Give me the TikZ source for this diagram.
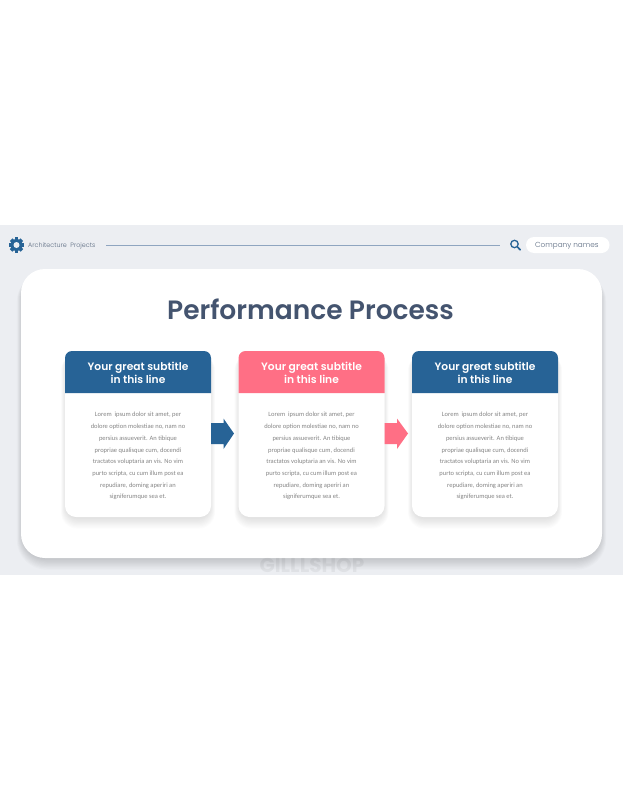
\documentclass[tikz,border=0pt]{standalone}
\usepackage{fontspec}
\setmainfont{Poppins}
\newfontfamily\semifont[UprightFont={* SemiBold}]{Poppins}
\newfontfamily\lightfont[UprightFont={* Light}]{Poppins}
\newfontfamily\bodyfont{Carlito}
\usetikzlibrary{calc}
\definecolor{bandbg}{HTML}{ECEEF2}
\definecolor{navy}{HTML}{276396}
\definecolor{pinkc}{HTML}{FF6F85}
\definecolor{titlec}{HTML}{44546F}
\definecolor{bodyc}{HTML}{858585}
\definecolor{rulec}{HTML}{8FA5C0}
\definecolor{smallc}{HTML}{5A6A80}
\tikzset{
  x=1pt,y=-1pt,
  subtitle/.style={font=\semifont\fontsize{10.7}{12.7}\selectfont,text=white,align=center,inner sep=0pt},
  bodytext/.style={font=\bodyfont\fontsize{6.5}{11.7}\selectfont,text=bodyc,align=center,inner sep=0pt},
  smalltext/.style={font=\lightfont\fontsize{6.4}{7}\selectfont,text=smallc,inner sep=0pt},
}
\newcommand{\softshadow}[6]{% x1 y1 x2 y2 radius opacity
  \foreach \k in {0,1,...,11}{
    \fill[black,opacity=#6,rounded corners=#5+\k*0.5]
      ({#1+2-\k*0.55},{#2+3}) rectangle ({#3-2+\k*0.55},{#4-1+\k*1.15});
  }
}
\newcommand{\card}[4]{% name, x left, header colour, [unused]
  \softshadow{#2}{351}{#2+146}{517}{11}{0.012}
  \fill[white,rounded corners=11] (#2,351) rectangle (#2+146,517);
  \fill[#3] (#2,393) -- (#2,358) arc[start angle=180,end angle=270,radius=7] -- (#2+139,351) arc[start angle=270,end angle=360,radius=7] -- (#2+146,393) -- cycle;
  \node[subtitle] (#1head) at (#2+73,372.8) {Your great subtitle\\in this line};
  \node[bodytext] (#1body) at (#2+73,456.2) {Lorem\ \ ipsum dolor sit amet, per\\dolore option molestiae no, nam no\\persius assueverit. An tibique\\propriae qualisque cum, docendi\\tractatos voluptaria an vis. No vim\\purto scripta, cu cum illum post ea\\repudiare, doming aperiri an\\signiferumque sea et.};
}
\begin{document}
\begin{tikzpicture}
\useasboundingbox (0,0) rectangle (623,800);
\fill[white] (0,0) rectangle (623,800);
\fill[bandbg] (0,225) rectangle (623,575);
% panel
\begin{scope}
\clip (0,225) rectangle (623,575);
\softshadow{21}{269}{602}{558}{24}{0.016}
\end{scope}
\fill[white,rounded corners=24] (21,269) rectangle (602,558);
% watermark
\node[font=\fontsize{20}{20}\selectfont\bfseries,text=black,opacity=0.05,inner sep=0pt] (mark) at (312,565) {GILLLSHOP};
% header gear
\foreach \a in {0,45,...,315}{
  \fill[navy,rotate around={\a:(16.5,245)}] (14.6,237.4) rectangle (18.4,241);
}
\fill[navy] (16.5,245) circle[radius=6];
\fill[bandbg] (16.5,245) circle[radius=3];
\node[smalltext,anchor=west] (arch) at (28,245.5) {Architecture\ \ Projects};
\coordinate (ruleA) at (106,245.3);
\coordinate (ruleB) at (500,245.3);
\draw[rulec,line width=0.8] (ruleA) -- (ruleB);
\draw[navy,line width=1.3] (514.5,244) circle[radius=3.7];
\draw[navy,line width=1.7,line cap=round] (517.5,247) -- (520.2,249.8);
\fill[white,rounded corners=8] (526,237) rectangle (609.5,253);
\node[font=\lightfont\fontsize{7.3}{8}\selectfont,text=smallc,inner sep=0pt] (company) at (566.8,245.6) {Company names};
% title
\node[font=\semifont\fontsize{26.5}{28}\selectfont,text=titlec,inner sep=0pt] (title) at (310.5,309.3) {Performance Process};
% cards
\card{a}{65}{navy}{}
\card{b}{238.5}{pinkc}{}
\card{c}{412}{navy}{}
% arrows
\fill[navy] (211,423) -- (223.5,423) -- (223.5,418.5) -- (234,433.5) -- (223.5,449) -- (223.5,444) -- (211,444) -- cycle;
\fill[pinkc] (384.5,423) -- (397,423) -- (397,418.5) -- (408,433.5) -- (397,449) -- (397,444) -- (384.5,444) -- cycle;
\end{tikzpicture}
\end{document}
